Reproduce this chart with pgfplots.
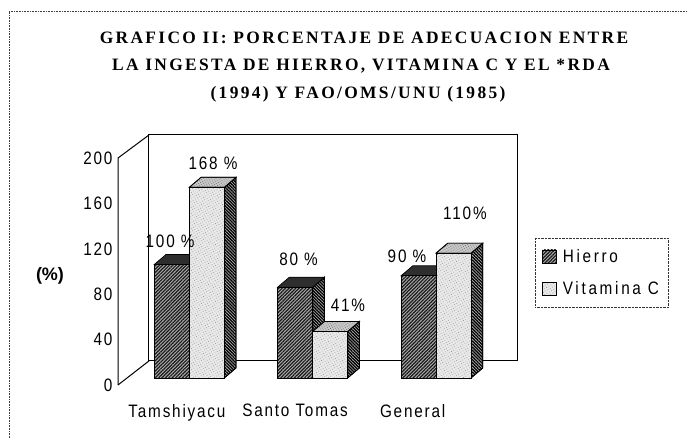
\documentclass[border=0pt]{standalone}
\usepackage{fontspec}
\usepackage{pgfplots}
\pgfplotsset{compat=1.18}
\usetikzlibrary{patterns.meta}
\setmainfont{Liberation Sans}
\newfontfamily\titlef[LetterSpace=13.5]{Liberation Serif}
\newfontfamily\axisf[LetterSpace=10,FakeStretch=0.85]{Liberation Sans}
\newfontfamily\legf[LetterSpace=15,FakeStretch=0.85]{Liberation Sans}
\tikzset{
 darkfront/.style={draw=black,line width=0.7pt,fill=gray!65,postaction={pattern={Lines[angle=45,distance=2.4pt,line width=1.2pt]},pattern color=black!90}},
 darkside/.style={draw=black,line width=0.7pt,fill=gray!60,postaction={pattern={Lines[angle=-45,distance=2.2pt,line width=1.3pt]},pattern color=black}},
 darktop/.style={draw=black,line width=0.7pt,fill=black!82},
 lightfront/.style={draw=black,line width=0.7pt,fill=black!9,postaction={pattern={Dots[angle=30,distance=2.6pt,radius=0.45pt]},pattern color=black!45}},
 lighttop/.style={draw=black,line width=0.7pt,fill=black!22,postaction={pattern={Dots[angle=30,distance=2.2pt,radius=0.45pt]},pattern color=black!60}},
}
\pgfplotsset{squareleg/.style={legend image code/.code={\draw[##1,solid] (0pt,-6.5pt) rectangle (14pt,6.5pt);}}}
\begin{document}
\begin{tikzpicture}[x=1pt,y=1pt]
\path[use as bounding box] (0,0) rectangle (688,438);
\draw[black!75,line width=0.6pt,densely dotted] (9,0) -- (9,427) -- (688,427);
\node[font=\titlef\bfseries\fontsize{17.4}{17.4}\selectfont,anchor=center] at (364,400) {GRAFICO II: PORCENTAJE DE ADECUACION ENTRE};
\node[font=\titlef\bfseries\fontsize{17.4}{17.4}\selectfont,anchor=center] at (361,372) {LA INGESTA DE HIERRO, VITAMINA C Y EL *RDA};
\node[font=\titlef\bfseries\fontsize{17.4}{17.4}\selectfont,anchor=center] at (358,344) {(1994) Y FAO/OMS/UNU (1985)};
\node[font=\bfseries\fontsize{18}{18}\selectfont] at (50,162) {(\%)};
\begin{axis}[
  at={(118pt,53pt)},anchor=south west,
  scale only axis,width=399pt,height=250pt,
  xmin=-0.578,xmax=2.656,ymin=-6.2,ymax=214.1,
  clip=false,
  axis line style={draw=none},
  tick style={draw=none},
  xtick={-0.1,0.857,1.81},
  xticklabels={Tamshiyacu,Santo Tomas,General},
  ytick={-6.2,33.8,73.8,113.8,153.8,193.8},
  yticklabels={0,40,80,120,160,200},
  tick label style={font=\axisf\fontsize{18}{18}\selectfont},
  xticklabel style={yshift=-15.5pt},
  yticklabel style={xshift=-2pt},
  legend style={at={(1.045,0.588)},anchor=north west,draw=black!80,densely dotted,
    font=\legf\fontsize{18}{18}\selectfont,inner xsep=7pt,inner ysep=9pt,row sep=14pt,
    legend cell align=left,/tikz/column 1/.style={column sep=4pt}},
]
% back wall and side wall
\addplot[forget plot,black,line width=1pt] coordinates {(-0.327,15)(-0.327,214.1)(2.656,214.1)(2.656,15)(-0.327,15)};
\addplot[forget plot,black,line width=1pt] coordinates {(-0.578,-6.2)(-0.578,193.8)(-0.327,214.1)};
\addplot[forget plot,black,line width=1pt] coordinates {(-0.578,-6.2)(-0.327,15)};
% Hierro: side, top, front
\addplot[forget plot,darkside] coordinates {(0,0)(0.095,8.8)(0.095,108.8)(0,100)} -- cycle;
\addplot[forget plot,darkside] coordinates {(1,0)(1.095,8.8)(1.095,88.8)(1,80)} -- cycle;
\addplot[forget plot,darkside] coordinates {(2,0)(2.095,8.8)(2.095,98.8)(2,90)} -- cycle;
\addplot[forget plot,darktop] coordinates {(-0.284,100)(-0.189,108.8)(0.095,108.8)(0,100)} -- cycle;
\addplot[forget plot,darktop] coordinates {(0.716,80)(0.811,88.8)(1.095,88.8)(1,80)} -- cycle;
\addplot[forget plot,darktop] coordinates {(1.716,90)(1.811,98.8)(2.095,98.8)(2,90)} -- cycle;
\addplot[forget plot,ybar,bar width=0.284,bar shift=-0.142,darkfront] coordinates {(0,100)(1,80)(2,90)};
% Vitamina C: side, top, front
\addplot[forget plot,darkside] coordinates {(0.284,0)(0.379,8.8)(0.379,176.8)(0.284,168)} -- cycle;
\addplot[forget plot,darkside] coordinates {(1.284,0)(1.379,8.8)(1.379,49.8)(1.284,41)} -- cycle;
\addplot[forget plot,darkside] coordinates {(2.284,0)(2.379,8.8)(2.379,118.8)(2.284,110)} -- cycle;
\addplot[forget plot,lighttop] coordinates {(0,168)(0.095,176.8)(0.379,176.8)(0.284,168)} -- cycle;
\addplot[forget plot,lighttop] coordinates {(1,41)(1.095,49.8)(1.379,49.8)(1.284,41)} -- cycle;
\addplot[forget plot,lighttop] coordinates {(2,110)(2.095,118.8)(2.379,118.8)(2.284,110)} -- cycle;
\addplot[forget plot,ybar,bar width=0.284,bar shift=0.142,lightfront] coordinates {(0,168)(1,41)(2,110)};
% legend
\addlegendimage{squareleg,darkfront}
\addlegendentry{Hierro}
\addlegendimage{squareleg,lightfront}
\addlegendentry{Vitamina C}
% labels
\tikzset{lab/.style={font=\axisf\fontsize{18}{18}\selectfont}}
\node[lab] at (axis cs:-0.156,120.7) {100 \%};
\node[lab] at (axis cs:0.192,189.4) {168 \%};
\node[lab] at (axis cs:0.885,104.8) {80 \%};
\node[lab] at (axis cs:1.286,64.3) {41\%};
\node[lab] at (axis cs:1.764,107.5) {90 \%};
\node[lab] at (axis cs:2.234,145.4) {110\%};
\end{axis}
\end{tikzpicture}
\end{document}
